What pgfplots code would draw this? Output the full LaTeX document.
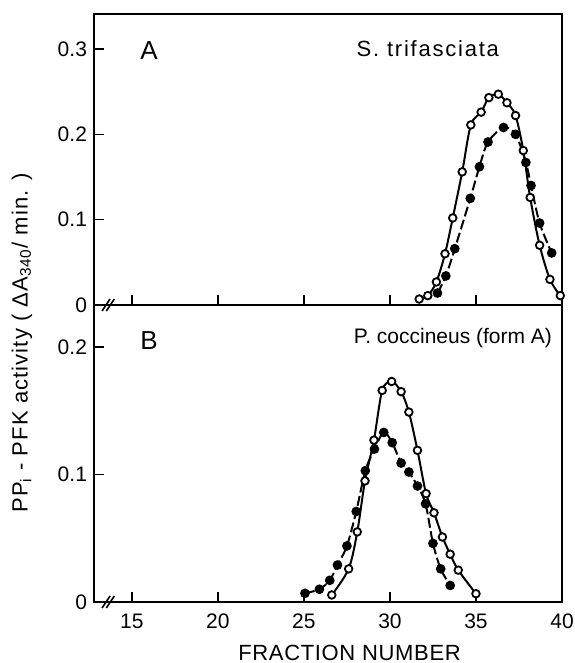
\documentclass[border=0pt]{standalone}
\usepackage{fontspec}
\setmainfont{Liberation Sans}
\usepackage{pgfplots}
\pgfplotsset{compat=1.18}

\pgfplotsset{
  panel/.style={
    scale only axis, width=234pt,
    xmin=12.8, xmax=40,
    xtick={15,20,25,30,35,40},
    tick align=inside,
    ytick pos=left, xtick pos=bottom,
    major tick length=5pt,
    tick style={line width=0.8pt, black},
    axis line style={line width=1.1pt},
    /pgf/number format/assume math mode=true,
    tick label style={font=\fontsize{10.5}{12}\selectfont},
    xticklabel style={yshift=-2.5pt},
    clip=false,
  },
  opn/.style={solid, line width=1pt, smooth, mark=*,
    mark options={fill=white, solid, line width=0.9pt}, mark size=1.9pt},
  fld/.style={dash pattern=on 5pt off 1.8pt, line width=1pt, smooth, mark=*,
    mark options={fill=black, solid}, mark size=1.9pt},
}

\begin{document}
\begin{tikzpicture}
\path[use as bounding box] (0pt,0pt) rectangle (287pt,331.5pt);

% panel B (bottom)
\begin{axis}[panel, at={(47pt,30.5pt)}, anchor=south west, height=148.5pt,
    ymin=0, ymax=0.233, ytick={0,0.1,0.2}, yticklabels={0,0.1,0.2},
    xlabel={FRACTION NUMBER},
    xlabel style={font=\fontsize{11}{13}\selectfont\addfontfeatures{LetterSpace=3},
      at={(ticklabel cs:0.546)}, anchor=north, yshift=-1pt}]
  \addplot[opn] coordinates {(26.62,0.0055) (27.6,0.026) (28.1,0.055) (28.55,0.095)
    (29.07,0.127) (29.55,0.166) (30.1,0.173) (30.65,0.165) (31.1,0.149) (31.6,0.119)
    (32.1,0.085) (32.56,0.070) (33.05,0.051) (33.5,0.0375) (33.97,0.025) (35.0,0.0065)};
  \addplot[fld] coordinates {(25.06,0.0068) (25.9,0.010) (26.5,0.017) (26.95,0.029)
    (27.5,0.044) (28.04,0.071) (28.57,0.103) (29.1,0.120) (29.64,0.133) (30.13,0.125)
    (30.65,0.109) (31.1,0.102) (31.6,0.091) (32.07,0.077) (32.5,0.046) (32.95,0.026)
    (33.5,0.013)};
  \node[font=\fontsize{13}{15}\selectfont] at (axis cs:16.0,0.205) {B};
  \node[anchor=west, font=\fontsize{10.5}{12}\selectfont] at (axis cs:27.5,0.207) {P. coccineus (form A)};
  \draw[line width=0.8pt] (axis cs:13.5,0) ++(-2pt,-3pt) -- ++(4pt,6pt);
  \draw[line width=0.8pt] (axis cs:13.75,0) ++(-2pt,-3pt) -- ++(4pt,6pt);
\end{axis}

% panel A (top)
\begin{axis}[panel, at={(47pt,179pt)}, anchor=south west, height=145.5pt,
    ymin=0, ymax=0.341, ytick={0,0.1,0.2,0.3}, yticklabels={0,0.1,0.2,0.3},
    xticklabels={}]
  \addplot[opn] coordinates {(31.7,0.007) (32.2,0.011) (32.7,0.027) (33.2,0.060)
    (33.65,0.102) (34.2,0.156) (34.7,0.211) (35.3,0.226) (35.75,0.243) (36.3,0.247)
    (36.8,0.237) (37.3,0.222) (37.75,0.181) (38.15,0.126) (38.7,0.070) (39.3,0.030)
    (39.9,0.011)};
  \addplot[fld] coordinates {(32.76,0.014) (33.25,0.034) (33.77,0.066) (34.67,0.125)
    (35.2,0.162) (35.7,0.191) (36.6,0.208) (37.3,0.200) (37.9,0.167) (38.2,0.140)
    (38.7,0.096) (39.4,0.061)};
  \node[font=\fontsize{13}{15}\selectfont] at (axis cs:16.0,0.298) {A};
  \node[font=\fontsize{11}{13}\selectfont\addfontfeatures{LetterSpace=8}] at (axis cs:32.2,0.300) {S. trifasciata};
  \draw[line width=0.8pt] (axis cs:13.5,0) ++(-2pt,-3pt) -- ++(4pt,6pt);
  \draw[line width=0.8pt] (axis cs:13.75,0) ++(-2pt,-3pt) -- ++(4pt,6pt);
\end{axis}

\node[rotate=90, font=\fontsize{11}{13}\selectfont\addfontfeatures{LetterSpace=5}] at (11pt,160pt)
  {PP\textsubscript{i} - PFK activity ( ΔA\textsubscript{340}/ min. )};
\end{tikzpicture}
\end{document}
